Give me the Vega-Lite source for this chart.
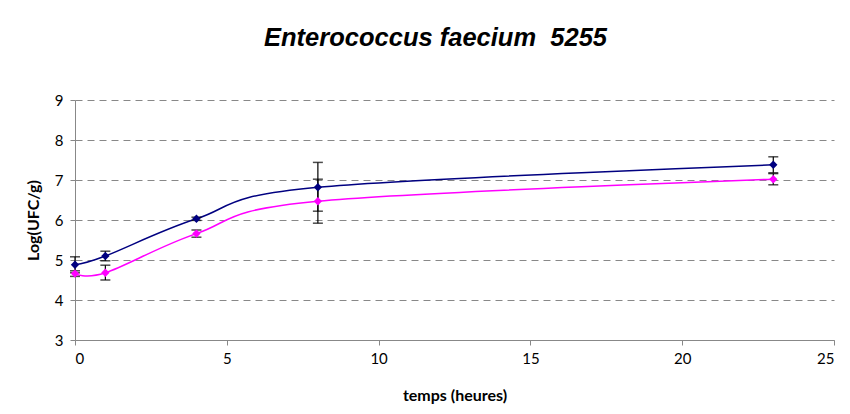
{
  "$schema": "https://vega.github.io/schema/vega-lite/v6.json",
  "width": 759,
  "height": 240,
  "autosize": {"type": "none"},
  "padding": {"left": 75, "top": 100, "right": 16, "bottom": 74},
  "background": "white",
  "view": {"stroke": null},
  "title": {
    "text": "Enterococcus faecium\u00a0 5255",
    "font": "Liberation Sans",
    "fontSize": 25.5,
    "fontWeight": "bold",
    "fontStyle": "italic",
    "color": "black",
    "anchor": "middle",
    "dx": -19,
    "offset": 42
  },
  "data": {
    "values": [
      {"t": 0, "series": "A", "v": 4.88, "lo": 4.68, "hi": 5.08},
      {"t": 1, "series": "A", "v": 5.1, "lo": 4.98, "hi": 5.22},
      {"t": 4, "series": "A", "v": 6.03, "lo": 5.99, "hi": 6.07},
      {"t": 8, "series": "A", "v": 6.82, "lo": 6.22, "hi": 7.44},
      {"t": 23, "series": "A", "v": 7.38, "lo": 7.18, "hi": 7.58},
      {"t": 0, "series": "B", "v": 4.66, "lo": 4.59, "hi": 4.73},
      {"t": 1, "series": "B", "v": 4.68, "lo": 4.5, "hi": 4.87},
      {"t": 4, "series": "B", "v": 5.66, "lo": 5.57, "hi": 5.75},
      {"t": 8, "series": "B", "v": 6.47, "lo": 5.92, "hi": 7.02},
      {"t": 23, "series": "B", "v": 7.02, "lo": 6.88, "hi": 7.16}
    ]
  },
  "config": {
    "axis": {
      "domainColor": "#888888",
      "tickColor": "#888888",
      "tickSize": 5,
      "labelFont": "Lato",
      "labelFontSize": 15,
      "labelColor": "black",
      "titleFont": "Lato",
      "titleFontSize": 16,
      "titleFontWeight": "bold",
      "titleColor": "black"
    }
  },
  "encoding": {
    "x": {
      "field": "t", "type": "quantitative",
      "scale": {"domain": [0, 25], "nice": false},
      "axis": {
        "title": "temps (heures)",
        "values": [0, 5, 10, 15, 20, 25],
        "grid": false,
        "labelPadding": 6,
        "titlePadding": 21
      }
    }
  },
  "layer": [
    {
      "mark": {"type": "line", "interpolate": "cardinal", "strokeWidth": 1.5},
      "encoding": {
        "y": {
          "field": "v", "type": "quantitative",
          "scale": {"domain": [3, 9], "nice": false, "zero": false},
          "axis": {
            "title": "Log(UFC/g)",
            "values": [3, 4, 5, 6, 7, 8, 9],
            "labelOverlap": false,
            "grid": true,
            "gridDash": [7, 5],
            "gridColor": "#888888",
            "labelPadding": 7,
            "titlePadding": 13
          }
        },
        "color": {
          "field": "series", "type": "nominal",
          "scale": {"domain": ["A", "B"], "range": ["#000080", "#FF00FF"]},
          "legend": null
        }
      }
    },
    {
      "mark": {"type": "rule", "color": "black", "strokeWidth": 1.2},
      "encoding": {
        "y": {"field": "lo", "type": "quantitative", "axis": {"title": "Log(UFC/g)", "values": [3, 4, 5, 6, 7, 8, 9], "labelOverlap": false, "grid": true, "gridDash": [7, 5], "gridColor": "#888888", "labelPadding": 7, "titlePadding": 13}},
        "y2": {"field": "hi"}
      }
    },
    {
      "mark": {"type": "tick", "orient": "horizontal", "color": "black", "size": 10, "thickness": 1.5},
      "encoding": {"y": {"field": "lo", "type": "quantitative", "axis": {"title": "Log(UFC/g)", "values": [3, 4, 5, 6, 7, 8, 9], "labelOverlap": false, "grid": true, "gridDash": [7, 5], "gridColor": "#888888", "labelPadding": 7, "titlePadding": 13}}}
    },
    {
      "mark": {"type": "tick", "orient": "horizontal", "color": "black", "size": 10, "thickness": 1.5},
      "encoding": {"y": {"field": "hi", "type": "quantitative", "axis": {"title": "Log(UFC/g)", "values": [3, 4, 5, 6, 7, 8, 9], "labelOverlap": false, "grid": true, "gridDash": [7, 5], "gridColor": "#888888", "labelPadding": 7, "titlePadding": 13}}}
    },
    {
      "mark": {"type": "point", "shape": "diamond", "filled": true, "opacity": 1, "size": 70},
      "encoding": {
        "y": {"field": "v", "type": "quantitative", "axis": {"title": "Log(UFC/g)", "values": [3, 4, 5, 6, 7, 8, 9], "labelOverlap": false, "grid": true, "gridDash": [7, 5], "gridColor": "#888888", "labelPadding": 7, "titlePadding": 13}},
        "color": {"field": "series", "type": "nominal", "legend": null}
      }
    }
  ]
}
